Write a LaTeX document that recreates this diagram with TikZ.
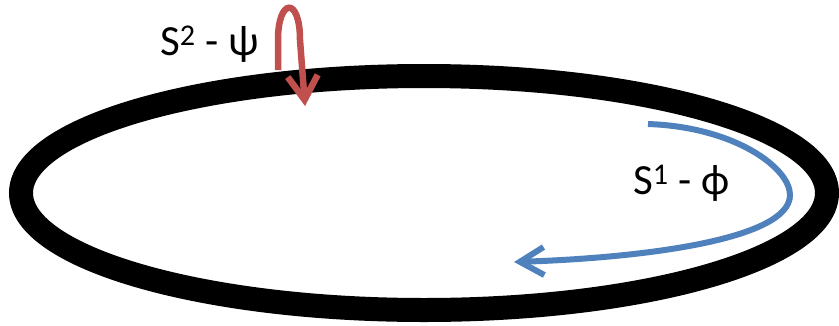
\documentclass[tikz,border=0pt]{standalone}
\usepackage{fontspec}
\setmainfont{Carlito}
\usetikzlibrary{arrows.meta}
\definecolor{ringred}{HTML}{C0504D}
\definecolor{ringblue}{HTML}{4F81BD}
\tikzset{
  lbl/.style={anchor=base west, inner sep=0pt, font=\fontsize{43}{48}\selectfont},
  loopred/.style={draw=ringred, line width=6.5pt, -{Straight Barb[length=24pt,width=30pt,line width=6.5pt]}},
  loopblue/.style={draw=ringblue, line width=6pt, -{Straight Barb[length=24pt,width=28pt,line width=6pt]}},
  ring/.style={draw=black, line width=24pt}
}
\begin{document}
\begin{tikzpicture}[x=1pt,y=-1pt]
\useasboundingbox (0,0) rectangle (839,325);
\draw[ring] (424,193) ellipse [x radius=403, y radius=117];
\draw[loopred] (278,70) -- (278,40) .. controls (278,-2) and (300,-4) .. (300,40) -- (305,106);
\draw[loopblue] (648,124) .. controls (735,127) and (790,168) .. (790,195)
   .. controls (790,240) and (640,258) .. (514,262);
\node[lbl] (s2) at (160,55) {S\textsuperscript{2} - ψ};
\node[lbl] (s1) at (633,194) {S\textsuperscript{1} - ϕ};
\end{tikzpicture}
\end{document}
